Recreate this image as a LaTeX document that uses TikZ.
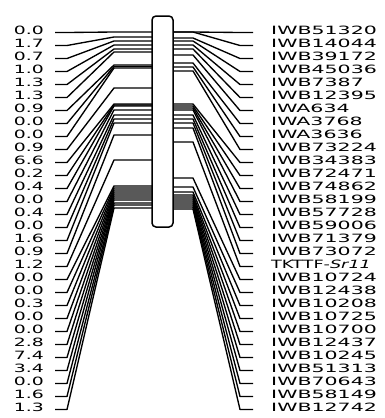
\documentclass[tikz,border=0pt]{standalone}
\usepackage{fontspec}
\setmainfont{DejaVu Sans}
\begin{document}
\begin{tikzpicture}[x=1pt,y=-1pt,
  link/.style={line width=1.35pt,line join=round},
  leftlab/.style={anchor=east,inner sep=0pt,font=\fontsize{11.4}{12}\selectfont},
  rightlab/.style={anchor=west,inner sep=0pt,font=\fontsize{11.4}{12}\selectfont},
  chrom/.style={draw,line width=1.5pt,rounded corners=4pt,fill=white,minimum width=21pt,minimum height=211pt,inner sep=0pt}]
\useasboundingbox (0,0) rectangle (385,418);
% left connectors
\foreach \ly [count=\i] in {32,37,41,45,49,52,65,66.5,68,88,104,105,106,110,115,119,123,135,160,186,188,190,192,194,196,198,200,203,205,208}{
  \pgfmathsetmacro\ty{32.5+13*(\i-1)}
  \coordinate (lt\i) at (55,\ty);
  \coordinate (ld\i) at (67,\ty);
  \coordinate (lh\i) at (114,\ly);
  \coordinate (lb\i) at (152,\ly);
  \draw[link] (lt\i) -- (ld\i) -- (lh\i) -- (lb\i);
}
% right connectors
\foreach \ry [count=\i] in {32,32,38,41,45,49,55,63,67,71,104,106,108,110,115,119,123,128,142,178,187,192,195,197,199,201,203,205,207,209}{
  \pgfmathsetmacro\ty{32.5+13*(\i-1)}
  \coordinate (rb\i) at (173,\ry);
  \coordinate (rh\i) at (193,\ry);
  \coordinate (rd\i) at (240,\ty);
  \coordinate (rt\i) at (253,\ty);
  \draw[link] (rb\i) -- (rh\i) -- (rd\i) -- (rt\i);
}
% chromosome
\node[chrom] (chr) at (162.5,121.5) {};
% left labels
\foreach \v [count=\i] in {0.0,1.7,0.7,1.0,1.3,1.3,0.9,0.0,0.0,0.9,6.6,0.2,0.4,0.0,0.4,0.0,1.6,0.9,1.2,0.0,0.0,0.3,0.0,0.0,2.8,7.4,3.4,0.0,1.6,1.3}{
  \pgfmathsetmacro\ty{30+13*(\i-1)}
  \node[leftlab] (lv\i) at (44,\ty) {\scalebox{1.65}[1]{\v}};
}
% right labels
\foreach \m/\s [count=\i] in {IWB51320/1.8,IWB14044/1.8,IWB39172/1.8,IWB45036/1.8,IWB7387/1.8,IWB12395/1.8,IWA634/1.8,IWA3768/1.8,IWA3636/1.8,IWB73224/1.8,IWB34383/1.8,IWB72471/1.8,IWB74862/1.8,IWB58199/1.8,IWB57728/1.8,IWB59006/1.8,IWB71379/1.8,IWB73072/1.8,{TKTTF-\textit{Sr11}}/1.55,IWB10724/1.8,IWB12438/1.8,IWB10208/1.8,IWB10725/1.8,IWB10700/1.8,IWB12437/1.8,IWB10245/1.8,IWB51313/1.8,IWB70643/1.8,IWB58149/1.8,IWB12742/1.8}{
  \pgfmathsetmacro\ty{30+13*(\i-1)}
  \node[rightlab] (rm\i) at (271,\ty) {\scalebox{\s}[1]{\m}};
}
\end{tikzpicture}
\end{document}
